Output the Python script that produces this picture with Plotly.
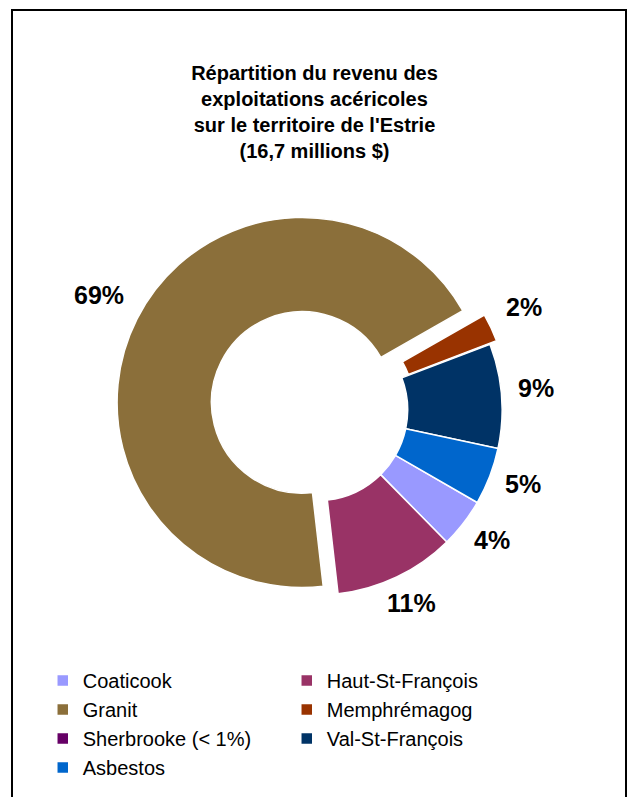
import math
import plotly.graph_objects as go

# Revenue share of maple syrup operations by MRC, Estrie (16.7 M$)
regions = ["Coaticook", "Haut-St-François", "Granit", "Memphrémagog",
           "Sherbrooke (< 1%)", "Val-St-François", "Asbestos"]
shares = [4.3, 10.55, 68.55, 2.45, 0.05, 9.1, 5.0]
colors = ["#9999FF", "#993366", "#8B6F3A", "#993300",
          "#660066", "#003366", "#0066CC"]
pulls = [0, 0, 0.09, 0.04, 0, 0, 0]
labelled = [True, True, True, True, False, True, True]

W, H = 629, 797
cx, cy, half = 317, 410, 201.7      # pie centre and half-size of its domain (px)
rotation = 120
label_size = 25

fig = go.Figure(go.Pie(
    labels=regions,
    values=shares,
    sort=False,
    direction="clockwise",
    rotation=rotation,
    hole=0.49,
    pull=pulls,
    marker=dict(colors=colors, line=dict(color="white", width=1.5)),
    textinfo="none",
    domain=dict(x=[(cx - half) / W, (cx + half) / W],
                y=[1 - (cy + half) / H, 1 - (cy - half) / H]),
    showlegend=True,
    hoverinfo="label+percent",
))

# Percentage labels outside each slice, placed along the slice's mid-angle
radius = half / (1 + max(pulls))
total = sum(shares)
angle = rotation
annotations = []
for share, pull, show in zip(shares, pulls, labelled):
    span = share / total * 360
    mid = math.radians(angle + span / 2)
    angle += span
    if not show:
        continue
    text = f"{math.floor(share / total * 100 + 0.5)}%"
    n_digits = len(text) - 1
    half_w = label_size * (0.556 * n_digits + 0.889) / 2
    half_h = 9
    dx, dy = math.sin(mid), -math.cos(mid)
    extent = abs(dx) * half_w + abs(dy) * half_h
    dist = radius * (1 + pull) + 16 + extent
    px, py = cx + dist * dx, cy + dist * dy - 5
    annotations.append(dict(
        x=px / W, y=1 - py / H, xref="paper", yref="paper",
        text=f"<b>{text}</b>", showarrow=False,
        xanchor="center", yanchor="middle",
        font=dict(size=label_size, color="black"),
    ))

fig.update_layout(
    width=W, height=H,
    margin=dict(l=0, r=0, t=0, b=0),
    paper_bgcolor="white",
    plot_bgcolor="white",
    font=dict(family="Liberation Sans, Arial", color="black"),
    title=dict(
        text="Répartition du revenu des<br>exploitations acéricoles<br>"
             "sur le territoire de l'Estrie<br>(16,7 millions $)",
        x=0.5, xanchor="center",
        yref="container", y=1 - 80 / H, yanchor="top",
        font=dict(size=20, weight="bold", color="black"),
    ),
    legend=dict(
        orientation="h",
        x=0.068, xanchor="left",
        y=1 - 661 / H, yanchor="top",
        entrywidth=199, entrywidthmode="pixels",
        font=dict(size=20, color="black"),
        traceorder="normal",
        itemclick=False,
    ),
    annotations=annotations,
    shapes=[dict(type="rect", xref="paper", yref="paper",
                 x0=12 / W, x1=626 / W, y0=-0.01, y1=1 - 10 / H,
                 line=dict(color="black", width=2), fillcolor="rgba(0,0,0,0)")],
)

fig.write_html("out.html")
